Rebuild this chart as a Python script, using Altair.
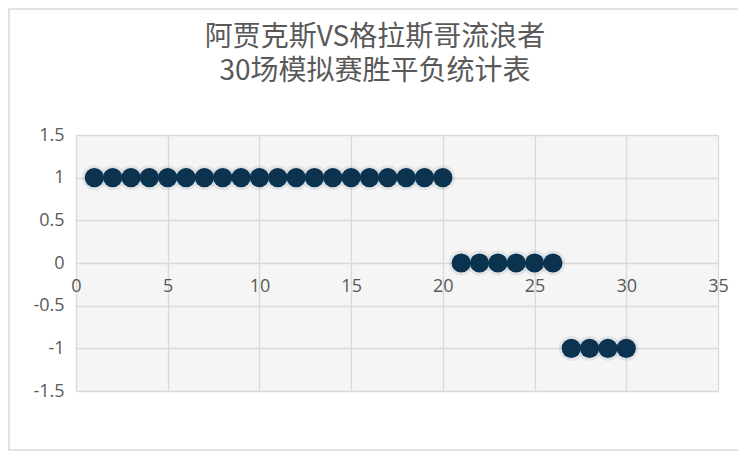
import altair as alt
import pandas as pd

games = list(range(1, 31))
results = [1] * 20 + [0] * 6 + [-1] * 4
x_ticks = [0, 5, 10, 15, 20, 25, 30, 35]
y_ticks = [-1.5, -1, -0.5, 0, 0.5, 1, 1.5]
title_lines = ["阿贾克斯VS格拉斯哥流浪者", "30场模拟赛胜平负统计表"]

df = pd.DataFrame({"game": games, "result": results})

W, H = 642, 256
LABEL_FONT = "Open Sans"
GRID = "#d9d9d9"
TXT = "#595959"

x_enc = alt.X("game:Q", scale=alt.Scale(domain=[0, 35], nice=False, zero=False),
              axis=alt.Axis(values=x_ticks, grid=True, gridColor=GRID, gridWidth=1.3,
                            domain=False, ticks=False, labelFont=LABEL_FONT, labelFontSize=18,
                            labelColor=TXT, labelPadding=14, offset=-128, title=None,
                            labelFlush=False, labelExpr="datum.value + ''"))
y_enc = alt.Y("result:Q", scale=alt.Scale(domain=[-1.5, 1.5], nice=False, zero=False),
              axis=alt.Axis(values=y_ticks, grid=True, gridColor=GRID, gridWidth=1.3,
                            domain=False, ticks=False, labelFont=LABEL_FONT, labelFontSize=18,
                            labelColor=TXT, labelPadding=12, title=None,
                            labelExpr="datum.value + ''"))

glow = alt.Chart(df).mark_circle(color="#0b3350", opacity=0.08, size=620).encode(x=x_enc, y=y_enc)
pts = alt.Chart(df).mark_circle(color="#0b3350", opacity=1, size=370).encode(
    x=alt.X("game:Q"), y=alt.Y("result:Q"))

frame = alt.Chart(pd.DataFrame({"a": [0]})).mark_rect(
    fill=None, stroke="#d9d9d9", strokeWidth=1.5, clip=False).encode(
    x=alt.value(-67), x2=alt.value(668), y=alt.value(-126), y2=alt.value(315))

t1 = alt.Chart(pd.DataFrame({"t": [title_lines[0]]})).mark_text(
    font="Noto Sans CJK SC", fontSize=28, color=TXT, align="center", baseline="middle",
    clip=False).encode(text="t:N", x=alt.value(299), y=alt.value(-97))
t2 = alt.Chart(pd.DataFrame({"t": [title_lines[1]]})).mark_text(
    font="Noto Sans CJK SC", fontSize=28, color=TXT, align="center", baseline="middle",
    clip=False).encode(text="t:N", x=alt.value(299), y=alt.value(-63))

chart = alt.layer(frame, glow, pts, t1, t2).properties(
    width=W, height=H,
    autosize=alt.AutoSizeParams(type="none"),
    padding={"left": 68, "top": 127, "right": 20, "bottom": 60},
).configure_view(fill="#f5f5f5", stroke=None)

chart.save("out.html", embed_options={"renderer": "svg", "actions": False})
